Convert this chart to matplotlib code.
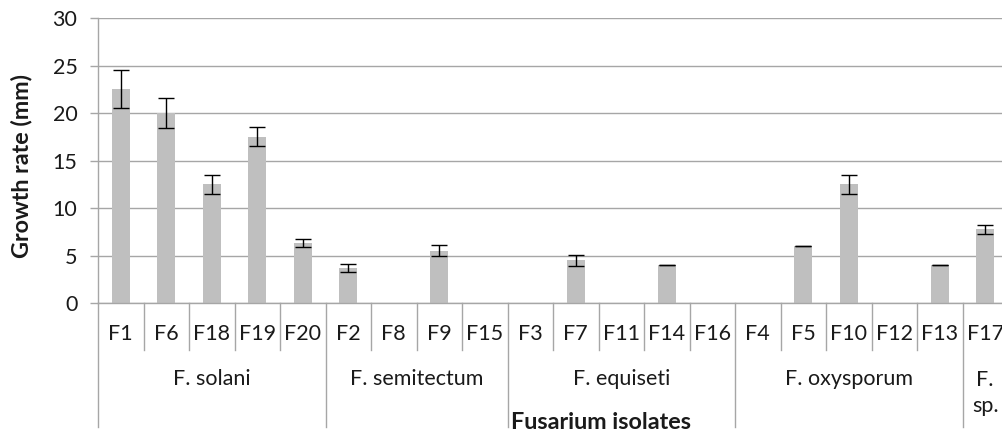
import numpy as np
import matplotlib
matplotlib.use('Agg')
import matplotlib.pyplot as plt

# values
isolates = ['F1', 'F6', 'F18', 'F19', 'F20',
            'F2', 'F8', 'F9', 'F15',
            'F3', 'F7', 'F11', 'F14', 'F16',
            'F4', 'F5', 'F10', 'F12', 'F13',
            'F17']
growth = [22.5, 20.0, 12.5, 17.5, 6.3,
          3.7, 0, 5.5, 0,
          0, 4.5, 0, 4.0, 0,
          0, 6.0, 12.5, 0, 4.0,
          7.75]
growth_err = [2.0, 1.6, 1.0, 1.0, 0.45,
              0.45, 0, 0.6, 0,
              0, 0.6, 0, 0, 0,
              0, 0, 1.0, 0, 0,
              0.45]
species = ['F. solani', 'F. semitectum', 'F. equiseti', 'F. oxysporum', 'F.\nsp.']
species_counts = [5, 4, 5, 5, 1]

text_col = '#1a1a1a'
line_col = '#a6a6a6'
bar_col = '#bfbfbf'
plt.rcParams.update({
    'font.family': ['Lato', 'DejaVu Sans'],
    'text.color': text_col, 'xtick.color': text_col, 'ytick.color': text_col,
})
lab_size = 15.5
title_size = 16.8

W, H = 1003, 436
fig = plt.figure(figsize=(W / 100, H / 100), dpi=100)
ax_l, ax_r, ax_t, ax_b = 98, 1008, 18.3, 303
ax = fig.add_axes([ax_l / W, 1 - ax_b / H, (ax_r - ax_l) / W, (ax_b - ax_t) / H])
ax_h = ax_b - ax_t

x = np.arange(len(isolates))
g = np.array(growth)
e = np.array(growth_err)
ax.bar(x, g, width=0.4, color=bar_col, zorder=2)
has = g > 0
ax.errorbar(x[has], g[has], yerr=e[has], fmt='none', ecolor='black',
            elinewidth=1.0, capsize=5.8, capthick=1.0, zorder=3)

ax.set_xlim(-0.5, len(isolates) - 0.5)
ax.set_ylim(0, 30)
ax.set_yticks(range(0, 31, 5))
ax.yaxis.grid(True, color=line_col, linewidth=1.0, zorder=0)
ax.set_axisbelow(True)
for s in ['top', 'right']:
    ax.spines[s].set_visible(False)
for s in ['left', 'bottom']:
    ax.spines[s].set_color(line_col)
    ax.spines[s].set_linewidth(1.0)
ax.tick_params(axis='y', length=5.8, width=1.0, color=line_col, pad=9, labelsize=lab_size)
ax.set_xticks([])

def below(px):
    # pixels below the x axis -> axes fraction
    return -px / ax_h

tr = ax.get_xaxis_transform()
for i, name in enumerate(isolates):
    ax.text(i, below(31), name, transform=tr, ha='center', va='center', fontsize=lab_size)

# category dividers and group dividers below the axis
bounds = np.cumsum([0] + species_counts) - 0.5
for b in np.arange(len(isolates) + 1) - 0.5:
    depth = 124 if b in bounds else 47
    ax.plot([b, b], [0, below(depth)], transform=tr, color=line_col,
            linewidth=1.0, clip_on=False)

start = 0
for name, n in zip(species, species_counts):
    mid = start + (n - 1) / 2
    ax.text(mid, below(76 if '\n' not in name else 90), name, transform=tr,
            ha='center', va='center', fontsize=lab_size, linespacing=1.35)
    start += n

fig.text(22 / W, 1 - 166 / H, 'Growth rate (mm)', rotation=90, ha='center',
         va='center', fontsize=title_size, fontweight='bold')
fig.text(601 / W, 1 - 422 / H, 'Fusarium isolates', ha='center', va='center',
         fontsize=title_size, fontweight='bold')

fig.savefig('out.png', dpi=100, facecolor='white')
